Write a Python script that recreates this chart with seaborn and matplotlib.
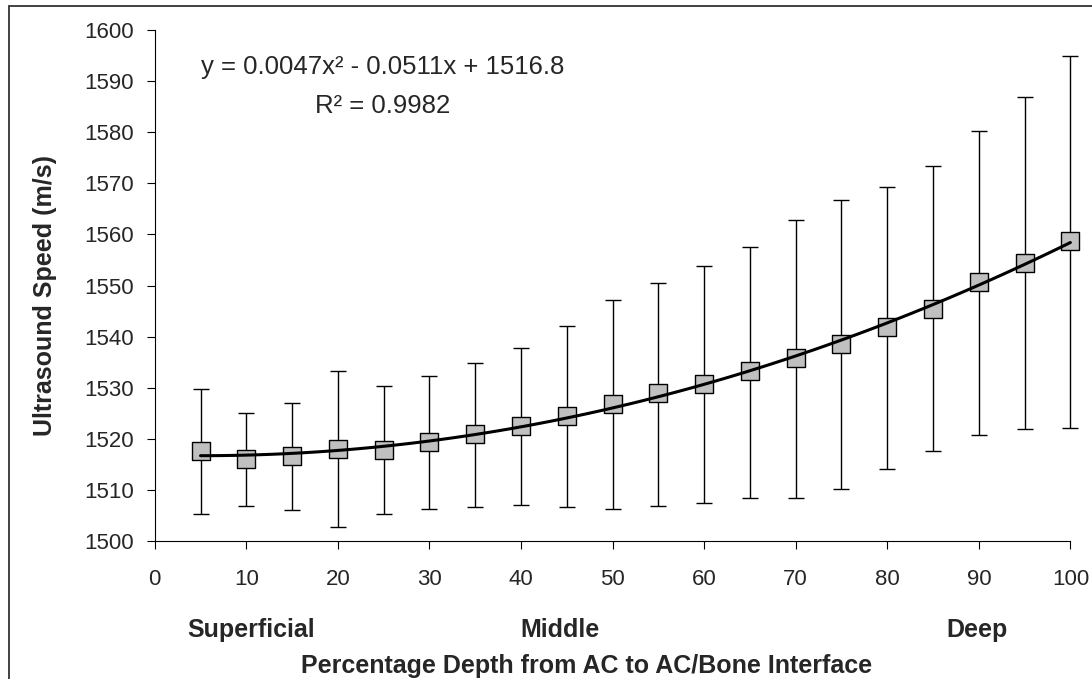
import numpy as np
import pandas as pd
import seaborn as sns
import matplotlib.pyplot as plt
from matplotlib.patches import Rectangle

# --- Data ---
depth = [5, 10, 15, 20, 25, 30, 35, 40, 45, 50,
         55, 60, 65, 70, 75, 80, 85, 90, 95, 100]
speed = [1517.6, 1516.0, 1516.6, 1518.1, 1517.8, 1519.4, 1521.0, 1522.6, 1524.4, 1526.9,
         1529.0, 1530.8, 1533.2, 1535.9, 1538.6, 1541.9, 1545.5, 1550.6, 1554.5, 1558.8]
upper = [1529.7, 1525.0, 1527.1, 1533.3, 1530.3, 1532.2, 1534.9, 1537.8, 1542.1, 1547.2,
         1550.5, 1553.8, 1557.6, 1562.8, 1566.7, 1569.3, 1573.3, 1580.2, 1586.8, 1595.0]
lower = [1505.3, 1506.8, 1506.0, 1502.7, 1505.3, 1506.3, 1506.7, 1507.1, 1506.7, 1506.3,
         1506.9, 1507.4, 1508.4, 1508.4, 1510.2, 1514.1, 1517.7, 1520.7, 1521.9, 1522.2]

x_ticks = list(range(0, 101, 10))
y_ticks = list(range(1500, 1601, 10))
zone_labels = ["Superficial", "Middle", "Deep"]
zone_pos = [10.5, 44.3, 89.8]
fit_text = ["y = 0.0047x\u00b2 - 0.0511x + 1516.8", "R\u00b2 = 0.9982"]

df = pd.DataFrame({"depth": depth, "speed": speed, "upper": upper, "lower": lower})

sns.set_theme(style="white")
plt.rcParams["font.family"] = ["Liberation Sans", "DejaVu Sans"]

fig = plt.figure(figsize=(10.92, 6.79), dpi=100)
ax = fig.add_axes([0.1417, 0.2032, 0.8385, 0.7526])

# error bars behind the markers
yerr = np.vstack([df["speed"] - df["lower"], df["upper"] - df["speed"]])
ax.errorbar(df["depth"], df["speed"], yerr=yerr, fmt="none", ecolor="black",
            elinewidth=1.0, capsize=6, capthick=1.0, zorder=2)

sns.scatterplot(data=df, x="depth", y="speed", marker="s", s=150,
                color="#c0c0c0", edgecolor="black", linewidth=1.0, ax=ax, zorder=3)

# 2nd order polynomial trendline
sns.regplot(data=df, x="depth", y="speed", order=2, ci=None, scatter=False,
            line_kws={"color": "black", "lw": 2.2, "zorder": 4}, ax=ax)

# last point sits on the axes edge, keep it unclipped
for artist in ax.lines + ax.collections:
    artist.set_clip_on(False)

ax.set_xlim(0, 100)
ax.set_ylim(1500, 1600)
ax.set_xticks(x_ticks)
ax.set_yticks(y_ticks)
ax.set_xlabel("")
ax.set_ylabel("")
ax.tick_params(axis="both", which="major", labelsize=16, length=6, width=0.8,
               color="black", direction="out", left=True, bottom=True)
ax.tick_params(axis="x", pad=14)
ax.tick_params(axis="y", pad=9)
for side in ["top", "right"]:
    ax.spines[side].set_visible(False)
for side in ["left", "bottom"]:
    ax.spines[side].set_color("black")
    ax.spines[side].set_linewidth(0.8)

# fit equation
ax.text(0.2493, 0.928, fit_text[0], transform=ax.transAxes, ha="center", va="center", fontsize=18.5)
ax.text(0.2493, 0.851, fit_text[1], transform=ax.transAxes, ha="center", va="center", fontsize=18.5)

# zone labels under the x axis
for lab, pos in zip(zone_labels, zone_pos):
    ax.text(pos, -0.174, lab, transform=ax.get_xaxis_transform(), ha="center", va="center",
            fontsize=18, fontweight="bold")

fig.text(0.537, 1 - 666.5 / 679, "Percentage Depth from AC to AC/Bone Interface",
         ha="center", va="center", fontsize=18, fontweight="bold")
fig.text(45 / 1092, 1 - 296 / 679, "Ultrasound Speed (m/s)", rotation=90,
         ha="center", va="center", fontsize=18, fontweight="bold")

# chart border (cut off at right/bottom in the reference)
fig.patches.append(Rectangle((9 / 1092, -0.1), 1.2, 1 - 6 / 679 + 0.1, transform=fig.transFigure,
                             fill=False, edgecolor="#333333", linewidth=1.3))

fig.savefig("out.png", dpi=100)
